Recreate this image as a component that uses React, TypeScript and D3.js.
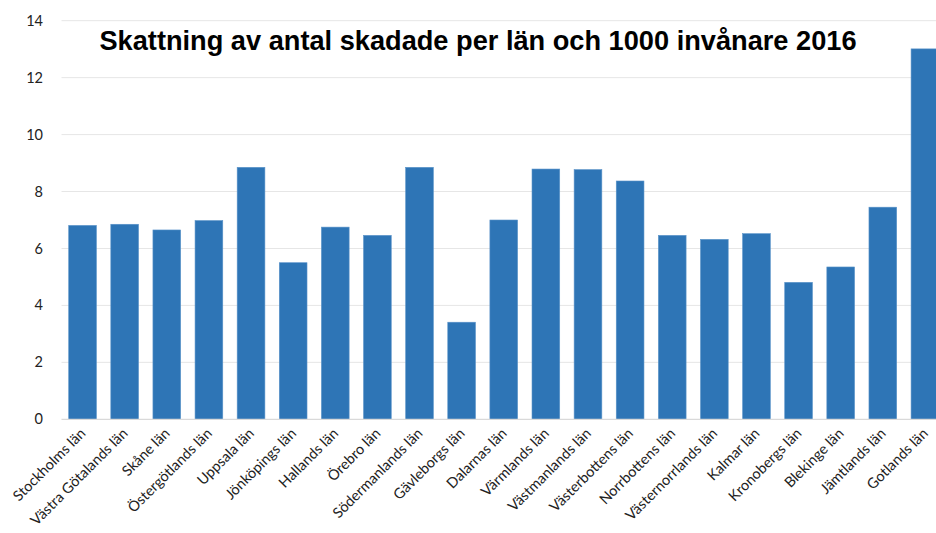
import React from 'react';
import * as d3 from 'd3';

const categories = [
  'Stockholms län', 'Västra Götalands län', 'Skåne län', 'Östergötlands län', 'Uppsala län',
  'Jönköpings län', 'Hallands län', 'Örebro län', 'Södermanlands län', 'Gävleborgs län',
  'Dalarnas län', 'Värmlands län', 'Västmanlands län', 'Västerbottens län', 'Norrbottens län',
  'Västernorrlands län', 'Kalmar län', 'Kronobergs län', 'Blekinge län', 'Jämtlands län', 'Gotlands län',
];
const values = [
  6.81, 6.85, 6.65, 6.98, 8.85,
  5.5, 6.75, 6.46, 8.85, 3.41,
  7.0, 8.79, 8.77, 8.37, 6.46,
  6.32, 6.52, 4.81, 5.35, 7.45, 13.01,
];
const yTicks = [0, 2, 4, 6, 8, 10, 12, 14];

const W = 936;
const H = 533;
const left = 61.5;
const right = 946;
const top = 20.7;
const bottom = 419.3;

export default function App() {
  const x = d3.scaleBand<string>().domain(categories).range([left, right]).paddingInner(0.342).paddingOuter(0.171);
  const y = d3.scaleLinear().domain([0, 14]).range([bottom, top]);
  const labelFont = 'Lato, "Open Sans", sans-serif';

  return (
    <svg width={W} height={H} style={{ position: 'absolute', left: 0, top: 0, background: '#fff' }}>
      {yTicks.map(t => (
        <g key={t}>
          {t > 0 && (
            <line x1={left} x2={W} y1={y(t)} y2={y(t)} stroke="#e6e6e6" strokeWidth={1} />
          )}
          <text x={43} y={y(t)} dy="0.35em" textAnchor="end" fontFamily={labelFont} fontSize={14.5} fill="#222">
            {t}
          </text>
        </g>
      ))}
      {categories.map((c, i) => (
        <rect
          key={c}
          x={x(c)}
          y={y(values[i])}
          width={x.bandwidth()}
          height={y(0) - y(values[i])}
          fill="#2e75b6"
          stroke="#5a93c9"
          strokeWidth={0.6}
        />
      ))}
      <line x1={left} x2={W} y1={bottom} y2={bottom} stroke="#d9d9d9" strokeWidth={1.2} />
      {categories.map(c => {
        const cx = (x(c) as number) + x.bandwidth() / 2 + 4;
        const cy = bottom + 15;
        return (
          <text
            key={c}
            x={cx}
            y={cy}
            textAnchor="end"
            transform={`rotate(-45 ${cx} ${cy})`}
            fontFamily={labelFont}
            fontSize={14.5}
            fill="#222"
          >
            {c}
          </text>
        );
      })}
      <text
        x={478}
        y={50}
        textAnchor="middle"
        fontFamily='"Liberation Sans", Arial, sans-serif'
        fontWeight="bold"
        fontSize={27.2}
        fill="#000"
      >
        Skattning av antal skadade per län och 1000 invånare 2016
      </text>
    </svg>
  );
}
